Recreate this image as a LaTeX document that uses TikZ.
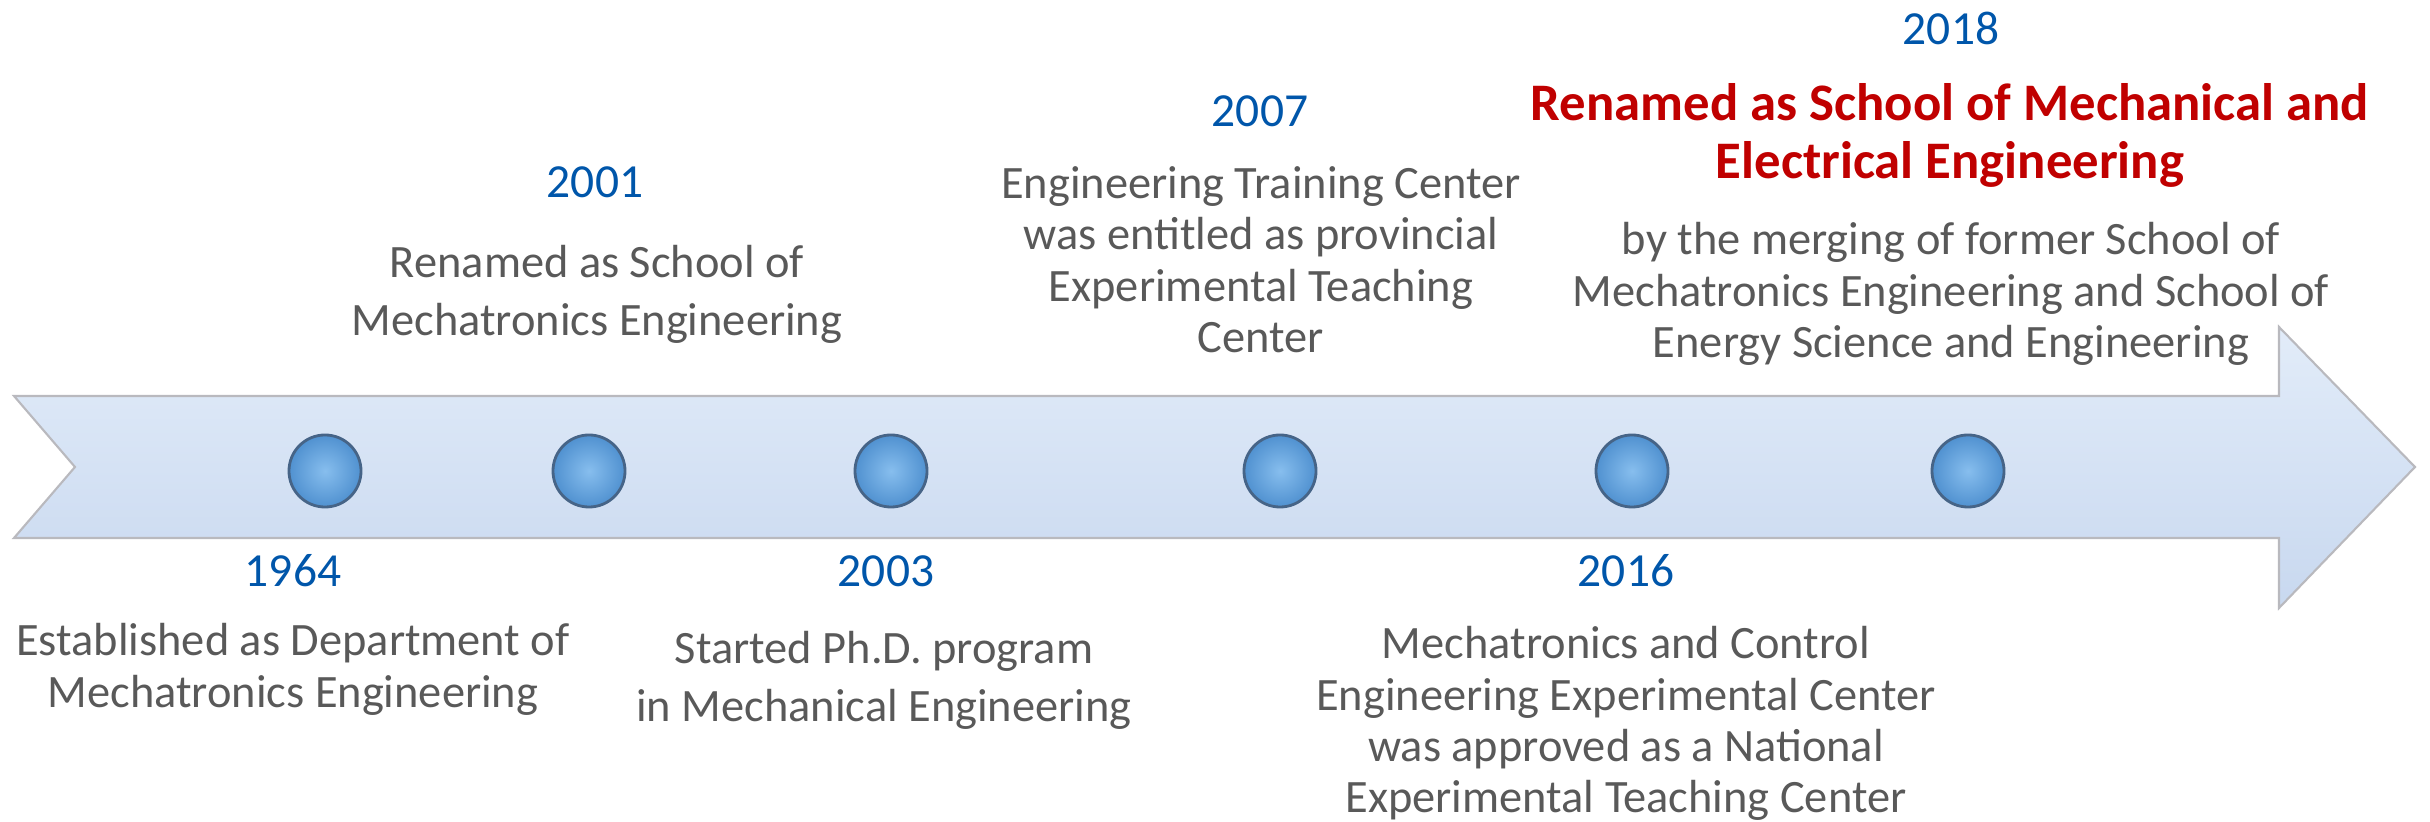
\documentclass[tikz,border=0pt]{standalone}
\usepackage{fontspec}
\setmainfont{Carlito}
\usetikzlibrary{shapes}
\definecolor{year-blue}{RGB}{0,86,170}
\definecolor{text-gray}{RGB}{89,89,89}
\definecolor{title-red}{RGB}{192,0,0}
\definecolor{band-top}{RGB}{226,236,249}
\definecolor{band-bottom}{RGB}{200,216,239}
\definecolor{band-edge}{RGB}{185,185,190}
\definecolor{dot-fill}{RGB}{80,145,208}
\definecolor{dot-light}{RGB}{135,190,238}
\definecolor{dot-edge}{RGB}{70,100,135}
\lineskiplimit=-10pt

\begin{document}
\begin{tikzpicture}[x=0.01cm, y=-0.01cm,
        year/.style={font=\fontsize{13.5}{16}\selectfont, text=year-blue, inner sep=0pt},
        desc/.style={font=\fontsize{13.2}{14.6}\selectfont, text=text-gray, align=center, anchor=north, inner sep=0pt},
        loose/.style={font=\fontsize{13.2}{16.5}\selectfont},
        title/.style={font=\fontsize{15}{16.5}\selectfont\bfseries, text=title-red, align=center, anchor=north, inner sep=0pt},
        dot/.style={circle, minimum size=7.2mm, inner sep=0pt, draw=dot-edge, line width=0.8pt, inner color=dot-light, outer color=dot-fill}]
        \useasboundingbox (0, 0) rectangle (2430, 822);
        % Time arrow
        \draw [band-edge, line width=0.6pt, top color=band-top, bottom color=band-bottom]
            (14, 396) -- (2279, 396) -- (2279, 327) -- (2415, 467) -- (2279, 608)
            -- (2279, 538) -- (14, 538) -- (75, 467) -- cycle;
        % Dots on the arrow
        \node [dot] (d1964) at (325, 471) {};
        \node [dot] (d2001) at (589, 471) {};
        \node [dot] (d2003) at (891, 471) {};
        \node [dot] (d2007) at (1280, 471) {};
        \node [dot] (d2016) at (1632, 471) {};
        \node [dot] (d2018) at (1968, 471) {};
        % 1964 label
        \node [year] (y1964) at (293, 571) {1964};
        \node [desc] (t1964) at (293, 623) {Established as Department of\\Mechatronics Engineering};
        % 2001 label
        \node [year] (y2001) at (595, 182) {2001};
        \node [desc, loose] (t2001) at (597, 245) {Renamed as School of\\Mechatronics Engineering};
        % 2003 label
        \node [year] (y2003) at (886, 571) {2003};
        \node [desc, loose] (t2003) at (884, 631) {Started Ph.D. program\\in Mechanical Engineering};
        % 2007 label
        \node [year] (y2007) at (1260, 111) {2007};
        \node [desc] (t2007) at (1261, 166) {Engineering Training Center\\was entitled as provincial\\Experimental Teaching\\Center};
        % 2016 label
        \node [year] (y2016) at (1626, 571) {2016};
        \node [desc] (t2016) at (1626, 626) {Mechatronics and Control\\Engineering Experimental Center\\was approved as a National\\Experimental Teaching Center};
        % 2018 label
        \node [year] (y2018) at (1951, 28) {2018};
        \node [title] (h2018) at (1950, 83) {Renamed as School of Mechanical and\\Electrical Engineering};
        \node [desc] (t2018) at (1951, 222) {by the merging of former School of\\Mechatronics Engineering and School of\\Energy Science and Engineering};
\end{tikzpicture}
\end{document}
